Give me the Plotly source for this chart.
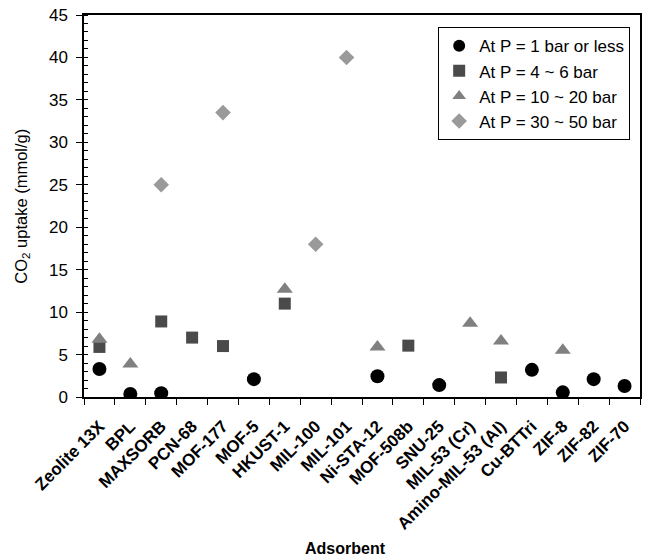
import plotly.graph_objects as go

categories = ["Zeolite 13X", "BPL", "MAXSORB", "PCN-68", "MOF-177", "MOF-5", "HKUST-1",
              "MIL-100", "MIL-101", "Ni-STA-12", "MOF-508b", "SNU-25", "MIL-53 (Cr)",
              "Amino-MIL-53 (Al)", "Cu-BTTri", "ZIF-8", "ZIF-82", "ZIF-70"]

# uptake values (mmol/g); None where no data
p_1bar   = [3.3, 0.35, 0.45, None, None, 2.1, None, None, None, 2.45, None, 1.4, None, None, 3.2, 0.55, 2.1, 1.3]
p_4_6    = [5.9, None, 8.9, 7.0, 6.0, None, 11.0, None, None, None, 6.05, None, None, 2.3, None, None, None, None]
p_10_20  = [6.8, 3.9, None, None, None, None, 12.7, None, None, 5.9, None, None, 8.7, 6.6, None, 5.5, None, None]
p_30_50  = [None, None, 25.0, None, 33.5, None, None, 18.0, 40.0, None, None, None, None, None, None, None, None, None]

series = [
    ("At P = 1 bar or less", p_1bar, "circle", "#000000", 14),
    ("At P = 4 ~ 6 bar", p_4_6, "square", "#4a4a4a", 12),
    ("At P = 10 ~ 20 bar", p_10_20, "triangle-up", "#808080", 14),
    ("At P = 30 ~ 50 bar", p_30_50, "diamond", "#9a9a9a", 12),
]

fig = go.Figure()
for i, (name, vals, sym, col, sz) in enumerate(series):
    xs = [c for c, v in zip(categories, vals) if v is not None]
    ys = [v for v in vals if v is not None]
    fig.add_trace(go.Scatter(
        x=xs, y=ys, mode="markers", name=name, legendgroup=f"g{i}",
        marker=dict(symbol=sym, color=col, size=sz, line=dict(width=0)),
    ))

font_family = "Liberation Sans, Arial, sans-serif"

# the page body adds an 8px offset; margins compensate for it
fig.update_layout(
    width=650, height=559,
    margin=dict(l=76, r=18, t=7, b=169.5),
    paper_bgcolor="white", plot_bgcolor="white",
    font=dict(family=font_family, color="#000000"),
    showlegend=True,
    legend=dict(
        x=0.637, y=0.968, xanchor="left", yanchor="top",
        bordercolor="#000000", borderwidth=1, bgcolor="white",
        font=dict(size=17, family=font_family, color="#000000"),
        tracegroupgap=0, itemwidth=30, itemsizing="constant",
    ),
    xaxis=dict(
        type="category", categoryorder="array", categoryarray=categories,
        range=[-0.5, len(categories) - 0.5],
        showgrid=False, zeroline=False, automargin=False,
        showline=True, linecolor="#000000", linewidth=1.5, mirror=True,
        ticks="outside", ticklen=6, tickcolor="#000000", tickwidth=1.2,
        tickson="boundaries",
        tickangle=-45, ticklabelstandoff=11,
        tickfont=dict(size=17, family=font_family, color="#000000", weight="bold"),
    ),
    xaxis2=dict(
        type="category", categoryorder="array", categoryarray=categories,
        range=[-0.5, len(categories) - 0.5],
        overlaying="x", anchor="y", side="bottom",
        tickmode="array", tickvals=categories,
        showgrid=False, zeroline=False, automargin=False, showline=False,
        ticks="inside", ticklen=4, tickcolor="#000000", tickwidth=1,
        showticklabels=False,
    ),
    yaxis=dict(
        range=[0, 45], tick0=0, dtick=5,
        showgrid=False, zeroline=False, automargin=False,
        showline=True, linecolor="#000000", linewidth=1.5, mirror=True,
        ticks="outside", ticklen=6, tickcolor="#000000", tickwidth=1.2,
        ticklabelstandoff=5, ticklabeloverflow="allow",
        minor=dict(ticks="inside", dtick=1, ticklen=4, tickcolor="#000000", tickwidth=1, showgrid=False),
        tickfont=dict(size=17, family=font_family, color="#000000"),
    ),
    annotations=[
        dict(text="Adsorbent", xref="paper", yref="paper", x=0.47, y=-0.397,
             xanchor="center", yanchor="middle", showarrow=False,
             font=dict(size=16, family=font_family, color="#000000", weight="bold")),
        dict(text="CO<sub>2</sub> uptake (mmol/g)", xref="paper", yref="paper", x=-0.112, y=0.5,
             xanchor="center", yanchor="middle", showarrow=False, textangle=-90,
             font=dict(size=16.5, family=font_family, color="#000000")),
    ],
)

fig.write_html("out.html")
